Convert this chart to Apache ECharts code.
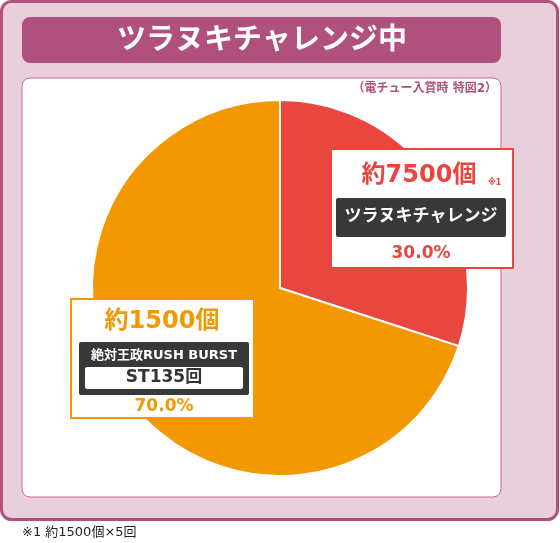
<!DOCTYPE html>
<html><head><meta charset="utf-8">
<script src="https://cdn.jsdelivr.net/npm/echarts@6/dist/echarts.min.js"></script>
<style>html,body{margin:0;padding:0;background:#fff}#c{width:560px;height:543px}</style>
</head><body><div id="c"></div>
<script>
const categories = ['ツラヌキチャレンジ', '絶対王政RUSH BURST'];
const values = [30.0, 70.0];
const counts = ['約7500個', '約1500個'];
const colors = ['#e8463f', '#f39800'];
const F = '"DejaVu Sans", "Noto Sans CJK JP", sans-serif';
const chart = echarts.init(document.getElementById('c'));
function t(x, y, text, size, color, align, weight) {
  return {type:'text', x:x, y:y, z:10, style:{text:text, fill:color, font:(weight||'bold')+' '+size+'px '+F, align:align||'center', verticalAlign:'middle'}};
}
function r(x, y, w, h, fill, stroke, lw, rad) {
  return {type:'rect', z:5, shape:{x:x, y:y, width:w, height:h, r:rad||0}, style:{fill:fill, stroke:stroke||null, lineWidth:lw||0}};
}
chart.setOption({
  animation:false,
  graphic:[
    Object.assign(r(1.5, 1.5, 556, 518, '#e9cfdc', '#b0507c', 3, 10), {z:-10}),
    Object.assign(r(22, 17, 479, 46, '#b0507c', null, 0, 8), {z:-9}),
    t(262, 41, 'ツラヌキチャレンジ中', 29, '#fff'),
    Object.assign(r(22, 78, 479, 419, '#fff', '#c2689a', 1, 8), {z:-9}),
    t(497, 89, '（電チュー入賞時 特図2）', 12, '#b0507c', 'right'),
    r(331, 149, 182, 119, '#fff', colors[0], 2),
    t(419, 176, counts[0], 24, colors[0]),
    t(488, 183, '※1', 8, colors[0], 'left'),
    r(336, 198, 170, 39, '#383838', null, 0, 2),
    t(421, 217, categories[0], 17, '#fff'),
    t(421, 254, values[0].toFixed(1) + '%', 17, colors[0]),
    r(71, 299, 183, 119, '#fff', colors[1], 2),
    t(162, 322, counts[1], 24, colors[1]),
    r(79, 342, 170, 53, '#383838', null, 0, 2),
    t(164, 356, categories[1], 13, '#fff'),
    r(85, 367, 158, 22, '#fff', null, 0, 2),
    t(164, 378, 'ST135回', 17, '#333'),
    t(164, 407, values[1].toFixed(1) + '%', 17, colors[1]),
    t(22, 533, '※1 約1500個×5回', 13, '#222', 'left', 'normal')
  ],
  series:[{
    type:'pie', center:[280, 288], radius:[0, 188], startAngle:90, clockwise:true,
    label:{show:false}, labelLine:{show:false}, silent:true, z:1,
    itemStyle:{borderColor:'#fff', borderWidth:2},
    data: categories.map((c,i)=>({name:c, value:values[i], itemStyle:{color:colors[i]}}))
  }]
});
</script></body></html>
